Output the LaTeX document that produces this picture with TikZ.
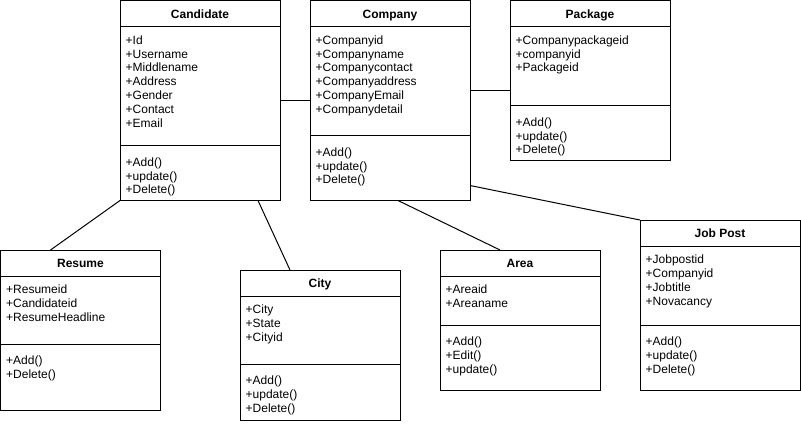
\documentclass[tikz,border=0pt]{standalone}
\usepackage{fontspec}
\setmainfont{Liberation Sans}
\tikzset{
  classbox/.style={draw, line width=1pt, anchor=north west, inner sep=0pt, outer sep=0pt},
  sepline/.style={line width=1pt},
  ctitle/.style={font=\bfseries\fontsize{12}{14}\selectfont, inner sep=0pt, anchor=base},
  cfield/.style={font=\fontsize{12}{14}\selectfont, inner sep=0pt, anchor=base west},
  conn/.style={line width=1pt}
}
% #1 name, #2 title, #3 x, #4 y, #5 width, #6 height, #7 header height, #8 divider offset, #9 attributes
\newcommand\umlclass[9]{%
  \node[classbox, minimum width=#5pt, minimum height=#6pt] (#1) at (#3,#4) {};
  \draw[sepline] ([yshift=-#7pt]#1.north west) -- ([yshift=-#7pt]#1.north east);
  \draw[sepline] ([yshift=-#8pt]#1.north west) -- ([yshift=-#8pt]#1.north east);
  \node[ctitle] (#1-title) at ([yshift=-17.5pt]#1.north) {#2};
  \foreach \t [count=\i] in {#9} {%
    \pgfmathsetmacro\yy{#7+17.7+13.8*(\i-1)}%
    \node[cfield] (#1-a\i) at ([xshift=5.5pt,yshift=-\yy pt]#1.north west) {\t};
  }%
}
% #1 name, #2 divider offset, #3 methods
\newcommand\umlmethods[3]{%
  \foreach \t [count=\i] in {#3} {%
    \pgfmathsetmacro\yy{#2+20.7+13.8*(\i-1)}%
    \node[cfield] (#1-m\i) at ([xshift=5.5pt,yshift=-\yy pt]#1.north west) {\t};
  }%
}
\begin{document}
\begin{tikzpicture}[x=1pt, y=-1pt]
\useasboundingbox (0,0) rectangle (801,424);

\umlclass{cand}{Candidate}{120}{0.5}{160}{200}{26}{145}{+Id,+Username,+Middlename,+Address,+Gender,+Contact,+Email}
\umlmethods{cand}{145}{+Add(),+update(),+Delete()}

\umlclass{comp}{Company}{310}{0.5}{160}{200}{26}{135}{+Companyid,+Companyname,+Companycontact,+Companyaddress,+CompanyEmail,+Companydetail}
\umlmethods{comp}{135}{+Add(),+update(),+Delete()}

\umlclass{pack}{Package}{510}{0.5}{160}{160}{26}{105}{+Companypackageid,+companyid,+Packageid}
\umlmethods{pack}{105}{+Add(),+update(),+Delete()}

\umlclass{res}{Resume}{0.5}{250}{160}{160}{26}{94}{+Resumeid,+Candidateid,+ResumeHeadline}
\umlmethods{res}{94}{+Add(),+Delete()}

\umlclass{city}{City}{240}{270}{160}{150}{26}{94}{+City,+State,+Cityid}
\umlmethods{city}{94}{+Add(),+update(),+Delete()}

\umlclass{area}{Area}{440}{250}{160}{140}{26}{75}{+Areaid,+Areaname}
\umlmethods{area}{75}{+Add(),+Edit(),+update()}

\umlclass{job}{Job Post}{640}{220}{160}{170}{26}{105}{+Jobpostid,+Companyid,+Jobtitle,+Novacancy}
\umlmethods{job}{105}{+Add(),+update(),+Delete()}

% connectors
\draw[conn] ([yshift=-100pt]cand.north east) -- ([yshift=-100pt]comp.north west);
\draw[conn] ([yshift=-90pt]comp.north east) -- ([yshift=-90pt]pack.north west);
\draw[conn] (cand.south west) -- ([xshift=50pt]res.north west);
\draw[conn] ([xshift=138pt]cand.south west) -- ([xshift=50pt]city.north west);
\draw[conn] ([xshift=88pt]comp.south west) -- ([xshift=60pt]area.north west);
\draw[conn] ([yshift=15pt]comp.south east) -- (job.north west);
\end{tikzpicture}
\end{document}
